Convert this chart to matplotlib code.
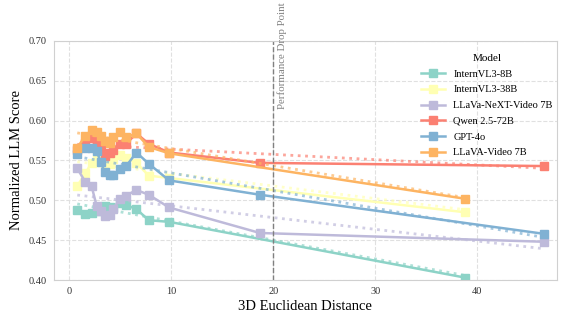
import numpy as np
import matplotlib
matplotlib.use("Agg")
import matplotlib.pyplot as plt

# 模型与数据
models = ["InternVL3-8B", "InternVL3-38B", "LLaVa-NeXT-Video 7B",
          "Qwen 2.5-72B", "GPT-4o", "LLaVA-Video 7B"]
colors = ["#8dd3c7", "#ffffb3", "#bebada", "#fb8072", "#80b1d3", "#fdb462"]

near_x = [0.8, 1.6, 2.2, 2.7, 3.1, 3.5, 4.0, 4.3, 5.0, 5.6, 6.6, 7.8, 9.8]

x_internvl8 = near_x + [38.8]
y_internvl8 = [0.488, 0.483, 0.484, 0.486, 0.490, 0.493, 0.492, 0.490, 0.497,
               0.494, 0.489, 0.475, 0.473, 0.403]

x_internvl38 = near_x + [38.8]
y_internvl38 = [0.518, 0.534, 0.547, 0.553, 0.548, 0.545, 0.546, 0.552, 0.557,
                0.553, 0.547, 0.531, 0.528, 0.485]

x_next = near_x + [18.7, 46.5]
y_next = [0.540, 0.523, 0.518, 0.493, 0.486, 0.480, 0.482, 0.489, 0.502,
          0.506, 0.513, 0.507, 0.491, 0.459, 0.448]

x_qwen = near_x + [18.7, 46.5]
y_qwen = [0.563, 0.572, 0.578, 0.576, 0.567, 0.556, 0.560, 0.563, 0.571,
          0.571, 0.584, 0.571, 0.560, 0.547, 0.543]

x_gpt = near_x + [18.7, 46.5]
y_gpt = [0.558, 0.566, 0.566, 0.562, 0.548, 0.535, 0.532, 0.532, 0.539,
         0.543, 0.560, 0.546, 0.525, 0.507, 0.458]

x_llava = near_x + [38.8]
y_llava = [0.566, 0.581, 0.588, 0.586, 0.581, 0.574, 0.572, 0.579, 0.586,
           0.579, 0.584, 0.567, 0.559, 0.502]

xs = [x_internvl8, x_internvl38, x_next, x_qwen, x_gpt, x_llava]
ys = [y_internvl8, y_internvl38, y_next, y_qwen, y_gpt, y_llava]

drop_x = 20

plt.rcParams['font.family'] = ['Liberation Serif', 'DejaVu Serif']

fig = plt.figure(figsize=(5.66, 3.2), dpi=100)
ax = fig.add_axes([0.095, 0.125, 0.889, 0.747])

for name, c, x, y in zip(models, colors, xs, ys):
    ax.plot(x, y, color=c, marker='s', markersize=5.5, linewidth=1.8, label=name)
    # 趋势线
    k, b = np.polyfit(x, y, 1)
    xx = np.array([min(x), max(x)])
    ax.plot(xx, k * xx + b, color=c, linestyle=':', linewidth=2, alpha=0.7)

ax.axvline(drop_x, color='gray', linestyle='--', linewidth=1)
ax.text(drop_x + 0.9, 0.614, "Performance Drop Point", rotation=90,
        ha='center', va='bottom', fontsize=7.8, color='gray', clip_on=False)

ax.set_xlim(-1.5, 47.8)
ax.set_ylim(0.40, 0.70)
ax.set_xticks([0, 10, 20, 30, 40])
ax.set_yticks([0.40, 0.45, 0.50, 0.55, 0.60, 0.65, 0.70])
ax.set_yticklabels(["%.2f" % v for v in ax.get_yticks()])
ax.tick_params(labelsize=7.5, length=0, colors='#333333', pad=5)
ax.grid(True, linestyle='--', color='#e0e0e0', linewidth=0.8)
for s in ax.spines.values():
    s.set_color('#d0d0d0')
ax.set_xlabel("3D Euclidean Distance", fontsize=10.5, labelpad=3)
ax.set_ylabel("Normalized LLM Score", fontsize=10.5)

leg = ax.legend(title="Model", loc='upper right', frameon=False, fontsize=7.5,
                title_fontsize=8, bbox_to_anchor=(1.01, 0.985),
                labelspacing=0.62, handlelength=2.3, markerscale=1.1)

fig.savefig("out.png", dpi=100)
